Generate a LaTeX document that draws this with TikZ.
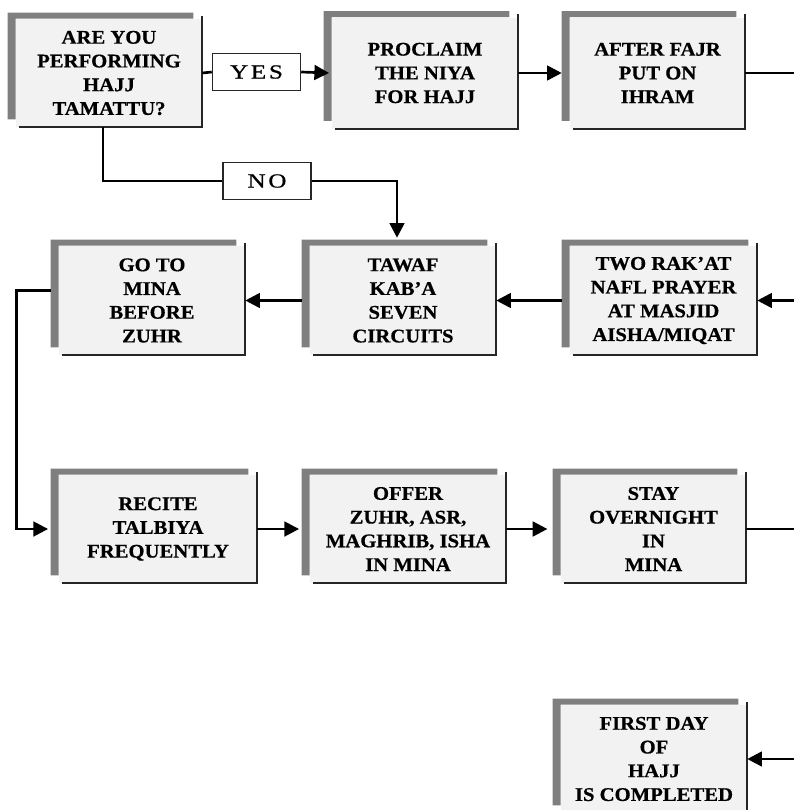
\documentclass[tikz,border=0pt]{standalone}
\usepackage{fontspec}
\usetikzlibrary{arrows.meta,calc}
\newfontfamily\boxfont[FakeStretch=1.07,FakeBold=0.6]{Liberation Serif}
\newfontfamily\labfont[FakeStretch=1.25,LetterSpace=14,FakeBold=0.8]{Liberation Serif}
\definecolor{boxfill}{HTML}{F2F2F2}
\definecolor{bargray}{HTML}{7F7F7F}
\begin{document}
\begin{tikzpicture}[x=0.75pt,y=-0.75pt,
  stepbox/.style={fill=boxfill, inner sep=0pt, align=center, font=\boxfont\bfseries\fontsize{14.5}{17.8}\selectfont},
  lab/.style={draw=black!85, line width=1.1pt, fill=white, minimum width=66pt, minimum height=28pt, inner sep=0pt, font=\labfont\fontsize{15}{17}\selectfont},
  conn/.style={line width=2pt, black},
  arr/.style={conn, -{Triangle[length=11pt,width=11pt]}},
]
\useasboundingbox (0,0) rectangle (794,810);
\clip (0,0) rectangle (794,810);

\node[stepbox, minimum width=139.5pt, minimum height=81pt] (q) at (109,73) {ARE YOU\\PERFORMING\\HAJJ\\TAMATTU?};
\node[stepbox, minimum width=139.5pt, minimum height=83.25pt] (p) at (425,73) {PROCLAIM\\THE NIYA\\FOR HAJJ};
\node[stepbox, minimum width=131.25pt, minimum height=83.25pt] (f) at (657.5,73) {AFTER FAJR\\PUT ON\\IHRAM};
\node[stepbox, minimum width=139.5pt, minimum height=81.75pt] (g) at (152,300.5) {GO TO\\MINA\\BEFORE\\ZUHR};
\node[stepbox, minimum width=139.5pt, minimum height=81.75pt] (w) at (403,300.5) {TAWAF\\KAB’A\\SEVEN\\CIRCUITS};
\node[stepbox, minimum width=140.25pt, minimum height=81.75pt] (t) at (663.5,300.5) {TWO RAK’AT\\NAFL PRAYER\\AT MASJID\\AISHA/MIQAT};
\node[stepbox, minimum width=148.5pt, minimum height=81pt] (r) at (158,529) {RECITE\\TALBIYA\\FREQUENTLY};
\node[stepbox, minimum width=147pt, minimum height=81pt] (o) at (408,529) {OFFER\\ZUHR, ASR,\\MAGHRIB, ISHA\\IN MINA};
\node[stepbox, minimum width=138.75pt, minimum height=81pt] (s) at (653.5,529) {STAY\\OVERNIGHT\\IN\\MINA};
\node[stepbox, minimum width=139.5pt, minimum height=81pt] (fd) at (654,759) {FIRST DAY\\OF\\HAJJ\\IS COMPLETED};

\foreach \n in {q,p,f,g,w,t,r,o,s,fd}{
  \fill[bargray] ([shift={(-8,-6)}]\n.north west) -- ([shift={(-9,-6)}]\n.north east) -- ([shift={(-9,0)}]\n.north east) -- (\n.north west) -- ([shift={(0,-8)}]\n.south west) -- ([shift={(-8,-8)}]\n.south west) -- cycle;
  \draw[line width=1.3pt, black!85] ([shift={(0,-3)}]\n.north east) -- (\n.south east) -- ([shift={(3,0)}]\n.south west);
}

\node[lab] (yes) at (256.5,72) {YES};
\node[lab] (no) at (267,181) {NO};

\coordinate (e1) at (794,73);
\coordinate (e2) at (794,300.5);
\coordinate (e3) at (794,529);
\coordinate (e4) at (794,759);

\draw[conn] (q.east) -- (yes.west);
\draw[arr] (yes.east) -- ([xshift=-2pt]p.west);
\draw[arr] (p.east) -- ([xshift=-6pt]f.west);
\draw[conn] (f.east) -- (e1);
\draw[arr] (e2) -- (t.east);
\draw[arr] ([xshift=-6pt]t.west) -- (w.east);
\draw[arr] ([xshift=-6pt]w.west) -- (g.east);
\draw[arr] ([shift={(-8,-10)}]g.west) -- ++(-34,0) |- ([xshift=-8pt]r.west);
\draw[arr] (r.east) -- ([xshift=-8pt]o.west);
\draw[arr] (o.east) -- ([xshift=-10pt]s.west);
\draw[conn] (s.east) -- (e3);
\draw[arr] (e4) -- (fd.east);
\draw[conn] ([shift={(-6,0)}]q.south) |- (no.west);
\draw[arr] (no.east) -| ([shift={(-6,-8)}]w.north);
\end{tikzpicture}
\end{document}
